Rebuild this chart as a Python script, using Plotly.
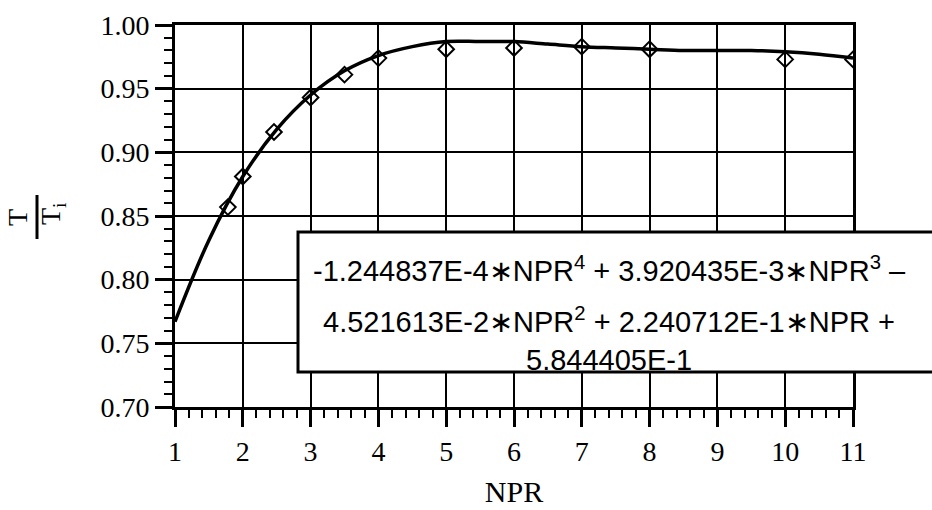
import plotly.graph_objects as go

NPR_PTS = [1.78, 2.0, 2.46, 3.0, 3.5, 4.0, 5.0, 6.0, 7.0, 8.0, 10.0, 11.0]
T_PTS = [0.857, 0.881, 0.916, 0.943, 0.961, 0.974, 0.981, 0.982, 0.983, 0.981, 0.973, 0.973]

# Fitted curve
CURVE_X = [1.0, 1.5, 2.0, 2.5, 3.0, 3.5, 4.0, 4.5, 5.0, 5.5, 6.0, 6.5, 7.0, 7.5,
           8.0, 8.5, 9.0, 9.5, 10.0, 10.5, 11.0]
CURVE_Y = [0.767, 0.831, 0.881, 0.918, 0.945, 0.964, 0.976, 0.983, 0.987, 0.987,
           0.987, 0.985, 0.983, 0.982, 0.981, 0.980, 0.980, 0.980, 0.979, 0.977, 0.974]

X_TICKS = [1, 2, 3, 4, 5, 6, 7, 8, 9, 10, 11]
Y_TICKS = [0.70, 0.75, 0.80, 0.85, 0.90, 0.95, 1.00]

EQ_LINES = [
    "-1.244837E-4\u2217NPR<sup>4</sup> + 3.920435E-3\u2217NPR<sup>3</sup> \u2013",
    "4.521613E-2\u2217NPR<sup>2</sup> + 2.240712E-1\u2217NPR +",
    "5.844405E-1",
]

W, H = 932, 510
L, R, T, B = 175, 79, 25, 103
PW, PH = W - L - R, H - T - B

def px(x):
    return (x - L) / PW

def py(y):
    return (H - B - y) / PH

fig = go.Figure()
fig.add_trace(go.Scatter(x=CURVE_X, y=CURVE_Y, mode="lines",
                         line=dict(color="black", width=3.5, shape="spline"),
                         hoverinfo="skip", showlegend=False))
fig.add_trace(go.Scatter(x=NPR_PTS, y=T_PTS, mode="markers",
                         marker=dict(symbol="diamond-open", size=12, color="black",
                                     line=dict(width=2, color="black")),
                         showlegend=False))

serif = "Liberation Serif, Times New Roman, serif"
sans = "Liberation Sans, Arial, sans-serif"

fig.update_layout(
    width=W, height=H,
    margin=dict(l=L, r=R, t=T, b=B, autoexpand=False),
    paper_bgcolor="white", plot_bgcolor="white",
    font=dict(family=serif, size=28, color="black"),
    xaxis=dict(range=[1, 11], tickvals=X_TICKS, ticktext=[str(v) for v in X_TICKS],
               showgrid=True, gridcolor="black", gridwidth=2,
               showline=True, linecolor="black", linewidth=3, mirror=True,
               ticks="outside", ticklen=17, tickwidth=2.5, tickcolor="black",
               minor=dict(dtick=0.2, ticks="outside", ticklen=8, tickwidth=2,
                          tickcolor="black", showgrid=False),
               zeroline=False, automargin=False,
               title=dict(text="NPR", font=dict(family=serif, size=30), standoff=16),
               tickfont=dict(family=serif, size=28)),
    yaxis=dict(range=[0.70, 1.00], tickvals=Y_TICKS,
               ticktext=["%.2f" % v for v in Y_TICKS],
               showgrid=True, gridcolor="black", gridwidth=2,
               showline=True, linecolor="black", linewidth=3, mirror=True,
               ticks="outside", ticklen=17, tickwidth=2.5, tickcolor="black",
               minor=dict(dtick=0.01, ticks="outside", ticklen=8, tickwidth=2,
                          tickcolor="black", showgrid=False),
               zeroline=False, automargin=False,
               tickfont=dict(family=serif, size=28)),
)

# Equation box (runs off the right edge)
fig.add_shape(type="rect", xref="paper", yref="paper",
              x0=px(298), x1=px(945), y0=py(372), y1=py(232),
              line=dict(color="black", width=3), fillcolor="white", layer="above")

for txt, ycen in zip(EQ_LINES, [269, 320, 360]):
    fig.add_annotation(xref="paper", yref="paper", x=px(609), y=py(ycen),
                       text=txt, showarrow=False, xanchor="center", yanchor="middle",
                       font=dict(family=sans, size=29, color="black"))

# Y-axis title: T over T_i, rotated
fig.add_annotation(xref="paper", yref="paper", x=px(18), y=py(218), text="T",
                   textangle=-90, showarrow=False, xanchor="center", yanchor="middle",
                   font=dict(family=serif, size=28))
fig.add_annotation(xref="paper", yref="paper", x=px(52), y=py(214), text="T<sub>i</sub>",
                   textangle=-90, showarrow=False, xanchor="center", yanchor="middle",
                   font=dict(family=serif, size=28))
fig.add_shape(type="line", xref="paper", yref="paper",
              x0=px(37), x1=px(37), y0=py(195), y1=py(239),
              line=dict(color="black", width=3))

fig.write_html("out.html")
